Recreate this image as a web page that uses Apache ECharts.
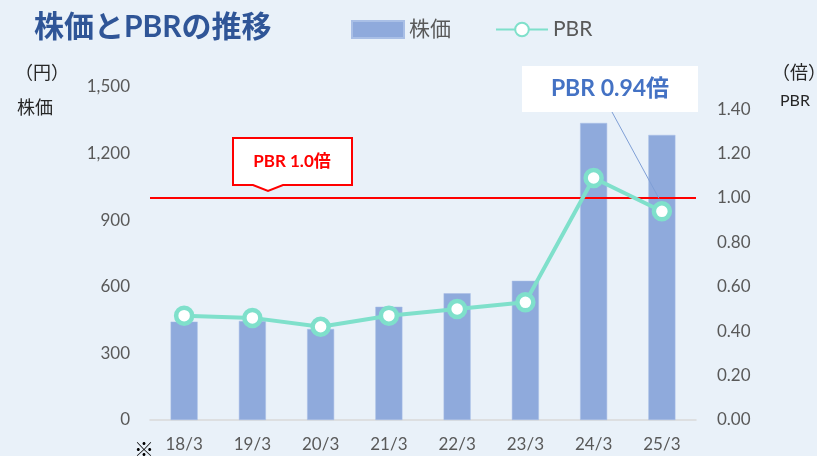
<!DOCTYPE html>
<html>
<head>
<meta charset="utf-8">
<script src="https://cdn.jsdelivr.net/npm/echarts@6/dist/echarts.min.js"></script>
<style>
  html, body { margin: 0; padding: 0; background: #e9f1f9; }
  #bar { width: 817px; height: 456px; }
</style>
</head>
<body>
<div id="bar"></div>
<script>
// データ
var years = ['18/3', '19/3', '20/3', '21/3', '22/3', '23/3', '24/3', '25/3'];
var price = [443, 446, 410, 510, 571, 627, 1338, 1284];   // 株価（円）
var pbr = [0.47, 0.46, 0.42, 0.47, 0.50, 0.53, 1.09, 0.94]; // PBR（倍）
var priceTicks = [0, 300, 600, 900, 1200, 1500];
var pbrLine = 1.0;

var FONT = 'Lato, "Noto Sans CJK JP", sans-serif';
var GRAY = '#595959';

var myChart = echarts.init(document.getElementById('bar'));

var option = {
  backgroundColor: '#e9f1f9',
  textStyle: { fontFamily: FONT },
  title: {
    text: '株価とPBRの推移',
    left: 29, top: 7,
    textStyle: { fontSize: 30, fontWeight: 'bold', color: '#2f5597', fontFamily: FONT }
  },
  legend: {
    left: 346, top: 14,
    itemWidth: 52, itemHeight: 17, itemGap: 44,
    textStyle: { fontSize: 21, color: GRAY, fontFamily: FONT },
    data: [{ name: '株価', icon: 'rect' }, { name: 'PBR' }]
  },
  grid: { left: 150, right: 121, top: 87, bottom: 36 },
  xAxis: {
    type: 'category',
    data: years,
    axisTick: { show: false },
    axisLine: { lineStyle: { color: '#d9d9d9', width: 1.5 } },
    axisLabel: { fontSize: 17, color: GRAY, margin: 16 }
  },
  yAxis: [{
    type: 'value',
    min: priceTicks[0], max: priceTicks[priceTicks.length - 1], interval: 300,
    splitLine: { show: false },
    axisLine: { show: false },
    axisTick: { show: false },
    axisLabel: {
      fontSize: 17, color: GRAY, margin: 20,
      formatter: function (v) { return v.toLocaleString('en-US'); }
    }
  }, {
    type: 'value',
    min: 0, max: 1.5, interval: 0.2,
    splitLine: { show: false },
    axisLine: { show: false },
    axisTick: { show: false },
    axisLabel: {
      fontSize: 17, color: GRAY, margin: 21, showMaxLabel: false,
      formatter: function (v) { return v > 1.45 ? '' : v.toFixed(2); }
    }
  }],
  series: [{
    name: '株価',
    type: 'bar',
    data: price,
    barWidth: 27,
    itemStyle: { color: '#8faadc', borderColor: '#a9bfe6', borderWidth: 0.5 },
    z: 1
  }, {
    name: 'PBR',
    type: 'line',
    yAxisIndex: 1,
    data: pbr,
    symbol: 'circle',
    symbolSize: 16,
    lineStyle: { color: '#7fe0cb', width: 4 },
    itemStyle: { color: '#ffffff', borderColor: '#7fe0cb', borderWidth: 4.5 },
    z: 5,
    markLine: {
      silent: true,
      symbol: 'none',
      label: { show: false },
      lineStyle: { color: '#ff0000', width: 2, type: 'solid' },
      data: [{ yAxis: pbrLine }],
      z: 3
    }
  }]
};

myChart.setOption(option);

// 注記（吹き出し・軸名）
var p = myChart.convertToPixel({ seriesIndex: 1 }, [7, pbr[7]]);
myChart.setOption({
  graphic: [
    { type: 'text', left: 15, top: 63, style: { text: '（円）', font: '18px "Noto Sans CJK JP"', fill: '#262626' } },
    { type: 'text', left: 17, top: 98, style: { text: '株価', font: '18px "Noto Sans CJK JP"', fill: '#262626' } },
    { type: 'text', left: 772, top: 63, style: { text: '（倍）', font: '18px "Noto Sans CJK JP"', fill: '#262626' } },
    { type: 'text', left: 780, top: 93, style: { text: 'PBR', font: '16px Lato, sans-serif', fill: '#262626' } },
    { type: 'text', left: 134, top: 439, style: { text: '※', font: '20px "Noto Sans CJK JP"', fill: '#000' } },
    {
      type: 'polygon',
      shape: { points: [[233, 138], [352, 138], [352, 185], [283, 185], [268, 191], [253, 185], [233, 185]] },
      style: { fill: '#ffffff', stroke: '#ff0000', lineWidth: 2 },
      z: 10
    },
    {
      type: 'text', x: 292, y: 162, z: 11,
      style: { text: 'PBR 1.0倍', font: 'bold 17px Lato, "Noto Sans CJK JP"', fill: '#ff0000', align: 'center', verticalAlign: 'middle' }
    },
    {
      type: 'line',
      shape: { x1: 612, y1: 112, x2: p[0] - 3, y2: p[1] - 13 },
      style: { stroke: '#7f9fd6', lineWidth: 1 },
      z: 10
    },
    {
      type: 'rect',
      shape: { x: 522, y: 66, width: 176, height: 46 },
      style: { fill: '#ffffff' },
      z: 10
    },
    {
      type: 'text', x: 610, y: 89, z: 11,
      style: { text: 'PBR 0.94倍', font: 'bold 23px Lato, "Noto Sans CJK JP"', fill: '#4472c4', align: 'center', verticalAlign: 'middle' }
    }
  ]
});
</script>
</body>
</html>
